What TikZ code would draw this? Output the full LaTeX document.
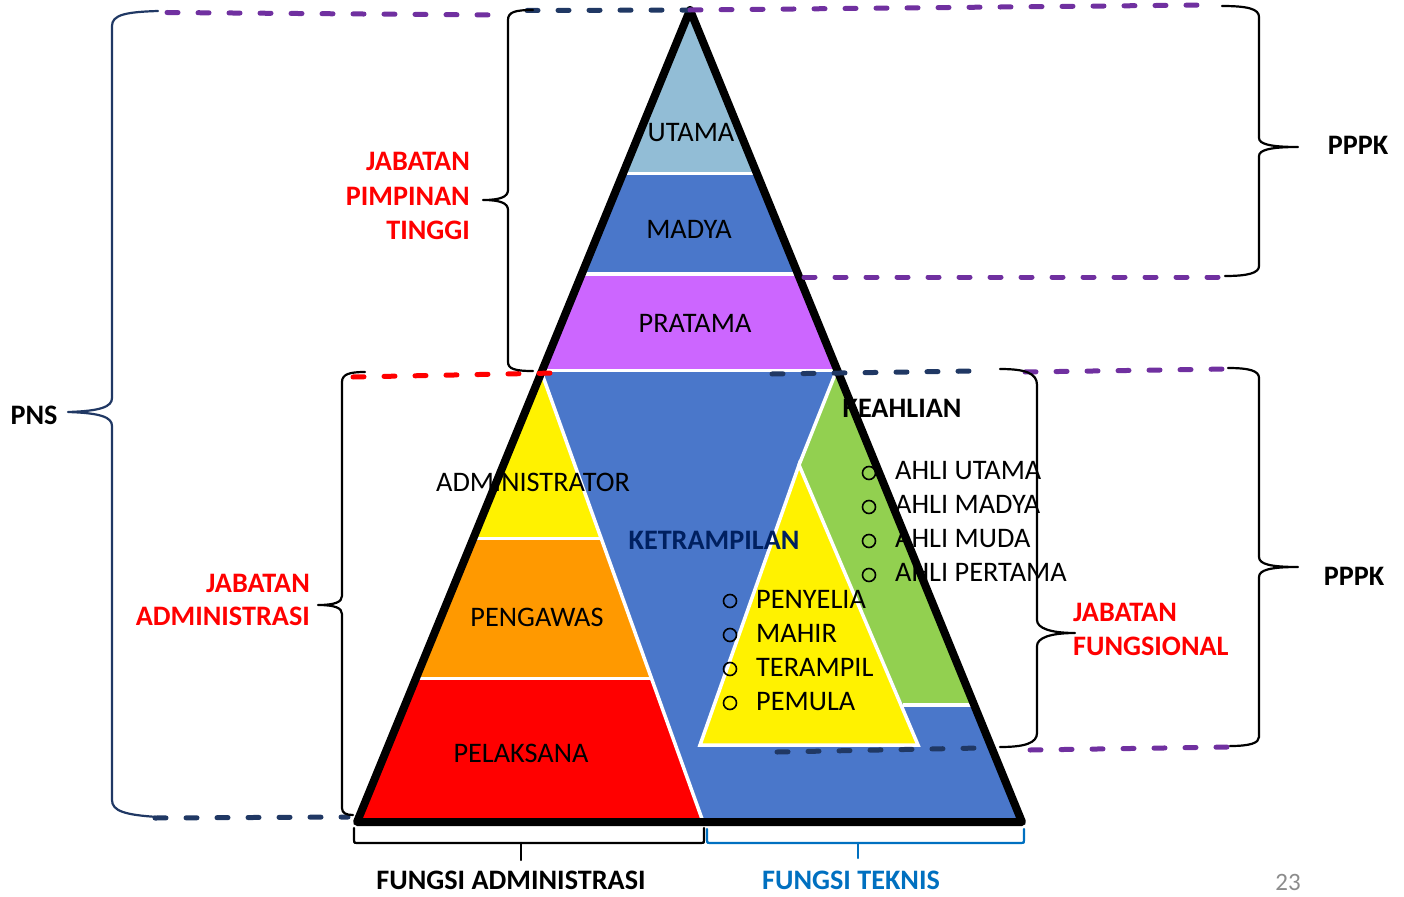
\documentclass[tikz,border=0pt]{standalone}
\usepackage{fontspec}
\setmainfont{Carlito}
\definecolor{utamaband}{HTML}{92BDD6}
\definecolor{midblue}{HTML}{4A77CA}
\definecolor{pratamaband}{HTML}{CC66FF}
\definecolor{orangeband}{HTML}{FF9900}
\definecolor{greenband}{HTML}{92D050}
\definecolor{navyline}{HTML}{203864}
\definecolor{purpleline}{HTML}{7030A0}
\definecolor{navytext}{HTML}{002060}
\definecolor{tekblue}{HTML}{0070C0}
\definecolor{pagegray}{HTML}{8C8C8C}
\tikzset{
  lvl/.style={font=\fontsize{28.3}{33}\selectfont, anchor=base, inner sep=0pt},
  lvlleft/.style={lvl, anchor=base west},
  lbl/.style={font=\fontsize{28.2}{33}\selectfont\bfseries, anchor=base, inner sep=0pt},
  brace/.style={line width=2.2pt, line cap=round, line join=round},
  guide/.style={line width=5pt, line cap=round, dash pattern=on 11pt off 20pt},
  sep/.style={white, line width=3.5pt},
  bullet/.style={circle, draw=black, line width=1.6pt, minimum size=13pt, inner sep=0pt},
  outline/.style={line width=8pt, line join=round}
}
\begin{document}
\begin{tikzpicture}[x=1pt,y=-1pt]
\useasboundingbox (0,0) rectangle (1404,896);

% corners of the main pyramid
\coordinate (apex) at (690,10);
\coordinate (bl) at (357,822);
\coordinate (br) at (1022,822);

% coloured tiers, clipped to the pyramid
\begin{scope}
  \clip (apex) -- (bl) -- (br) -- cycle;
  \fill[utamaband] (300,0) rectangle (1100,173.5);
  \fill[midblue] (300,173.5) rectangle (1100,274);
  \fill[pratamaband] (300,274) rectangle (1100,370.5);
  \fill[midblue] (300,370.5) rectangle (1100,830);
  \draw[sep] (300,173.5) -- (1100,173.5);
  \draw[sep] (300,274) -- (1100,274);
  \draw[sep] (300,370.5) -- (1100,370.5);
  % administrative tiers
  \fill[yellow] (543,376) -- (601.3,538.5) -- (300,538.5) -- (300,376) -- cycle;
  \fill[orangeband] (601.3,538.5) -- (651.5,678.5) -- (300,678.5) -- (300,538.5) -- cycle;
  \fill[red] (651.5,678.5) -- (706,830) -- (300,830) -- (300,678.5) -- cycle;
  \draw[sep] (541,371) -- (706,830);
  \draw[sep] (300,538.5) -- (601.3,538.5);
  \draw[sep] (300,678.5) -- (651.5,678.5);
  % functional: expertise band
  \fill[greenband] (836,372) -- (799,465) -- (903,705) -- (1100,705) -- (1100,372) -- cycle;
  \draw[sep] (836,372) -- (799,465);
  \draw[sep] (903,705) -- (1100,705);
  % functional: skills triangle
  \filldraw[fill=yellow, draw=white, line width=3.5pt, line join=miter]
    (799,465) -- (700,745) -- (918,745) -- cycle;
\end{scope}

% tier labels
\node[lvl] (utama) at (691,142) {UTAMA};
\node[lvl] (madya) at (689,238) {MADYA};
\node[lvl] (pratama) at (695,332) {PRATAMA};
\node[lvl] (administrator) at (533,491) {ADMINISTRATOR};
\node[lvl] (pengawas) at (537,626) {PENGAWAS};
\node[lvl] (pelaksana) at (521,762) {PELAKSANA};
\node[lbl, text=navytext] (ketrampilan) at (714,549) {KETRAMPILAN};
\node[lbl] (keahlian) at (902,417) {KEAHLIAN};

% expertise levels
\foreach \t/\y [count=\i] in {AHLI UTAMA/479, AHLI MADYA/513, AHLI MUDA/547, AHLI PERTAMA/581}{
  \node[bullet] (ab\i) at (869,\y-6) {};
  \node[lvlleft] (ah\i) at (895,\y) {\t};
}
% skill levels
\foreach \t/\y [count=\i] in {PENYELIA/608, MAHIR/642, TERAMPIL/676, PEMULA/710}{
  \node[bullet] (kb\i) at (730,\y-7) {};
  \node[lvlleft] (kt\i) at (756,\y) {\t};
}

% pyramid outline
\draw[outline] (apex) -- (bl) -- (br) -- cycle;

% dashed guide lines
\draw[guide, purpleline] (167,12.5) -- (493,15);
\draw[guide, navyline] (527,10.5) -- (690,10);
\draw[guide, purpleline] (690,10) -- (1208,5);
\draw[guide, purpleline] (804,277) -- (1224,277);
\draw[guide, red] (353,377) -- (555,373);
\draw[guide, navyline] (772,374) -- (975,371);
\draw[guide, purpleline] (1025,372) -- (1228,369);
\draw[guide, navyline] (777,752) -- (980,748);
\draw[guide, purpleline] (1030,750) -- (1230,747);
\draw[guide, navyline] (155,818) -- (348,817);

% braces
\coordinate (pnstip) at (68,412);
\coordinate (jpttip) at (483,200);
\coordinate (jatip) at (318,605);
\coordinate (jftip) at (1075,633);
\coordinate (pppkatip) at (1298,147);
\coordinate (pppkbtip) at (1298,567);

\draw[brace, navyline] (158,11) .. controls (125,12) and (112,15) .. (112,26) -- (112,398)
  .. controls (112,407) and (100,411) .. (pnstip)
  .. controls (100,413) and (112,417) .. (112,426) -- (112,800)
  .. controls (112,811) and (125,815) .. (158,817);
\draw[brace] (533,10) .. controls (515,10) and (508,12) .. (508,20) -- (508,190)
  .. controls (508,197) and (500,200) .. (jpttip)
  .. controls (500,200) and (508,203) .. (508,210) -- (508,362)
  .. controls (508,369) and (515,371) .. (533,371);
\draw[brace] (365,372) .. controls (350,372) and (342,374) .. (342,382) -- (342,596)
  .. controls (342,602) and (335,605) .. (jatip)
  .. controls (335,605) and (342,608) .. (342,614) -- (342,808)
  .. controls (342,813) and (346,815) .. (353,815);
\draw[brace] (1000,369) .. controls (1025,369) and (1037,373) .. (1037,385) -- (1037,620)
  .. controls (1037,628) and (1050,633) .. (jftip)
  .. controls (1050,633) and (1037,638) .. (1037,646) -- (1037,733)
  .. controls (1037,743) and (1025,747) .. (1000,747);
\draw[brace] (1222,6) .. controls (1248,6) and (1259,9) .. (1259,17) -- (1259,138)
  .. controls (1259,144) and (1270,147) .. (pppkatip)
  .. controls (1270,147) and (1259,150) .. (1259,156) -- (1259,266)
  .. controls (1259,273) and (1248,276) .. (1225,276);
\draw[brace] (1228,368) .. controls (1250,368) and (1259,371) .. (1259,378) -- (1259,557)
  .. controls (1259,564) and (1270,567) .. (pppkbtip)
  .. controls (1270,567) and (1259,570) .. (1259,577) -- (1259,737)
  .. controls (1259,743) and (1250,746) .. (1230,746);

% bottom brackets
\coordinate (admtip) at (521,860);
\coordinate (tektip) at (858,858);
\draw[brace] (354,828) -- (354,840) .. controls (354,843) .. (357,843) -- (701,843)
  .. controls (704,843) .. (704,840) -- (704,828);
\draw[brace] (521,843) -- (admtip);
\draw[brace, tekblue] (707,829) -- (707,840) .. controls (707,843) .. (710,843) -- (1021,843)
  .. controls (1024,843) .. (1024,840) -- (1024,829);
\draw[brace, tekblue] (858,843) -- (tektip);

% group labels
\node[lbl, anchor=base east, text=red] (jpt1) at (470,171) {JABATAN};
\node[lbl, anchor=base east, text=red] (jpt2) at (470,205) {PIMPINAN};
\node[lbl, anchor=base east, text=red] (jpt3) at (470,239) {TINGGI};
\node[lbl, anchor=base east, text=red] (ja1) at (310,592) {JABATAN};
\node[lbl, anchor=base east, text=red] (ja2) at (310,625) {ADMINISTRASI};
\node[lbl, anchor=base west, text=red] (jf1) at (1073,621) {JABATAN};
\node[lbl, anchor=base west, text=red] (jf2) at (1073,655) {FUNGSIONAL};
\node[lbl] (pns) at (34,424) {PNS};
\node[lbl] (pppka) at (1358,155) {PPPK};
\node[lbl] (pppkb) at (1354,585) {PPPK};
\node[lbl] (fadm) at (511,889) {FUNGSI ADMINISTRASI};
\node[lbl, text=tekblue] (ftek) at (851,889) {FUNGSI TEKNIS};
\node[font=\fontsize{25}{30}\selectfont, anchor=base, inner sep=0pt, text=pagegray] (page) at (1288,890) {23};
\end{tikzpicture}
\end{document}
